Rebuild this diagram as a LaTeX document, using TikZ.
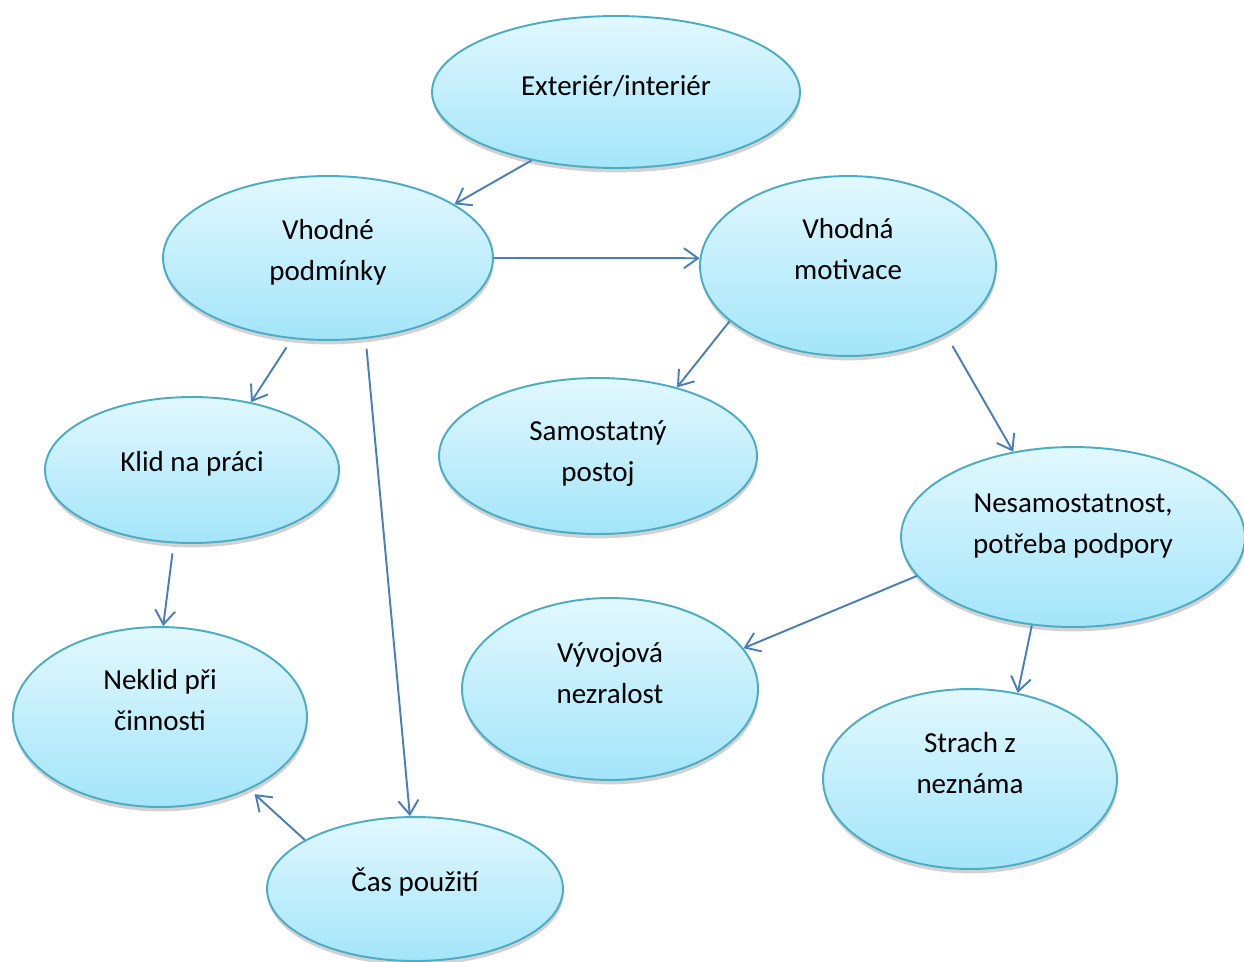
\documentclass[tikz,border=0pt]{standalone}
\usepackage{fontspec}
\setmainfont{Carlito}
\usetikzlibrary{shapes.geometric,arrows.meta,shadows}

\definecolor{rimblue}{HTML}{4BACC6}
\definecolor{toplight}{HTML}{E2F8FE}
\definecolor{bottomlight}{HTML}{A3E5FA}
\definecolor{arrowblue}{HTML}{4A7EBB}

\begin{document}
\begin{tikzpicture}[x=0.02cm, y=-0.02cm, thick]
\tikzstyle{bubble} = [ellipse, draw=rimblue, line width=1.1pt, top color=toplight, bottom color=bottomlight, inner sep=0pt, align=center, font=\fontsize{16.5}{23.5}\selectfont, drop shadow={shadow xshift=0.3pt, shadow yshift=-2.5pt, opacity=0.25, fill=black!70}]
\tikzstyle{lifted} = [text depth=#1]
\tikzstyle{link} = [draw=arrowblue, line width=1.1pt, -{Straight Barb[length=2.8mm, width=4mm]}]

\useasboundingbox (0,0) rectangle (1244,961);

\node[bubble, lifted=0.28cm, minimum width=7.36cm, minimum height=3.04cm] (ext) at (616,92) {Exteriér/interiér};
\node[bubble, lifted=0.32cm, minimum width=6.6cm, minimum height=3.28cm] (vp) at (328,258) {Vhodné\\podmínky};
\node[bubble, lifted=0.68cm, minimum width=5.92cm, minimum height=3.6cm] (mot) at (848,266) {Vhodná\\motivace};
\node[bubble, lifted=0.36cm, minimum width=5.88cm, minimum height=2.92cm] (klid) at (192,470) {Klid na práci};
\node[bubble, lifted=0.2cm, minimum width=6.36cm, minimum height=3.12cm] (sam) at (598,456) {Samostatný\\postoj};
\node[bubble, lifted=0.52cm, minimum width=6.88cm, minimum height=3.6cm] (nes) at (1073,537) {Nesamostatnost,\\potřeba podpory};
\node[bubble, lifted=0.68cm, minimum width=5.88cm, minimum height=3.6cm] (neklid) at (160,717) {Neklid při\\činnosti};
\node[bubble, lifted=0.64cm, minimum width=5.92cm, minimum height=3.64cm] (vyv) at (610,689) {Vývojová\\nezralost};
\node[bubble, lifted=0.64cm, minimum width=5.88cm, minimum height=3.6cm] (strach) at (970,779) {Strach z\\neznáma};
\node[bubble, lifted=0.36cm, minimum width=5.92cm, minimum height=2.88cm] (cas) at (415,889) {Čas použití};

\draw[link] (ext.219) -- (vp.23);
\draw[link] (vp.east) -- (mot.177);
\draw[link, shorten <=0.2cm] (vp.246) -- (klid.49);
\draw[link, shorten <=0.2cm] (vp.295) -- (cas.94);
\draw[link] (mot.205) -- (sam.41);
\draw[link, shorten <=0.26cm] (mot.325) -- (nes.125);
\draw[link, shorten <=0.2cm] (klid.256) -- (neklid.88);
\draw[link] (nes.194) -- (vyv.17);
\draw[link] (nes.245) -- (strach.61);
\draw[link, shorten >=0.14cm] (cas.156) -- (neklid.321);

\end{tikzpicture}
\end{document}
